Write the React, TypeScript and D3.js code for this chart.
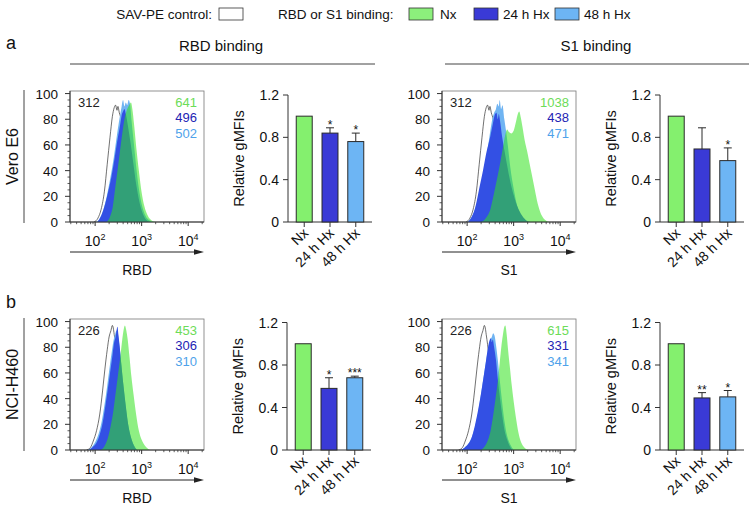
import React from "react";
import * as d3 from "d3";

// ---------- data ----------
const treatments = ["Nx", "24 h Hx", "48 h Hx"];

const veroRbdMean = [1.0, 0.84, 0.76];
const veroRbdErr = [0, 0.05, 0.08];
const veroRbdSig = ["", "*", "*"];
const veroS1Mean = [1.0, 0.69, 0.58];
const veroS1Err = [0, 0.2, 0.12];
const veroS1Sig = ["", "", "*"];
const nciRbdMean = [1.0, 0.58, 0.68];
const nciRbdErr = [0, 0.1, 0.015];
const nciRbdSig = ["", "*", "***"];
const nciS1Mean = [1.0, 0.49, 0.5];
const nciS1Err = [0, 0.05, 0.06];
const nciS1Sig = ["", "**", "*"];

// gMFI labels: [control, Nx, 24 h Hx, 48 h Hx]
const veroRbdGmfi = ["312", "641", "496", "502"];
const veroS1Gmfi = ["312", "1038", "438", "471"];
const nciRbdGmfi = ["226", "453", "306", "310"];
const nciS1Gmfi = ["226", "615", "331", "341"];

// histograms: [log10 intensity, % of max]
const veroControl: [number, number][] = [[1.98,0],[2.06,3],[2.13,10],[2.2,24],[2.26,45],[2.32,66],[2.37,82],[2.41,89],[2.44,91],[2.47,87],[2.49,90],[2.52,85],[2.56,80],[2.6,70],[2.65,55],[2.7,38],[2.76,20],[2.82,8],[2.9,2],[2.98,0]];
const veroRbd48: [number, number][] = [[2.02,0],[2.1,3],[2.18,10],[2.25,20],[2.32,33],[2.4,50],[2.47,68],[2.53,82],[2.57,90],[2.6,95],[2.63,90],[2.66,93],[2.69,91],[2.72,95],[2.75,92],[2.78,80],[2.83,62],[2.88,44],[2.94,26],[3.0,14],[3.08,5],[3.18,1],[3.28,0]];
const veroRbd24: [number, number][] = [[2.05,0],[2.12,4],[2.2,12],[2.27,22],[2.35,35],[2.42,50],[2.48,64],[2.53,74],[2.57,83],[2.6,86],[2.63,88],[2.66,84],[2.7,76],[2.76,62],[2.82,46],[2.88,30],[2.95,16],[3.03,6],[3.12,1],[3.2,0]];
const veroRbdNx: [number, number][] = [[2.25,0],[2.32,4],[2.38,12],[2.43,26],[2.48,40],[2.53,54],[2.58,68],[2.63,80],[2.68,87],[2.73,91],[2.77,93],[2.8,88],[2.84,75],[2.89,56],[2.94,40],[3.0,23],[3.06,12],[3.13,5],[3.22,1],[3.3,0]];
const veroS148: [number, number][] = [[2.0,0],[2.08,3],[2.16,9],[2.24,19],[2.32,32],[2.4,48],[2.47,64],[2.53,78],[2.58,85],[2.62,88],[2.65,92],[2.68,90],[2.7,95],[2.73,88],[2.76,91],[2.8,80],[2.84,70],[2.88,58],[2.93,42],[3.0,26],[3.08,12],[3.18,4],[3.3,0]];
const veroS124: [number, number][] = [[2.02,0],[2.1,4],[2.18,12],[2.26,26],[2.34,40],[2.42,55],[2.5,67],[2.55,76],[2.59,83],[2.63,85],[2.66,80],[2.68,84],[2.71,78],[2.75,67],[2.8,56],[2.86,44],[2.93,31],[3.0,21],[3.08,12],[3.18,5],[3.28,1],[3.36,0]];
const veroS1Nx: [number, number][] = [[2.3,0],[2.4,3],[2.5,10],[2.57,21],[2.64,33],[2.71,46],[2.77,58],[2.82,68],[2.86,72],[2.9,70],[2.95,69],[3.0,71],[3.05,78],[3.09,84],[3.12,86],[3.15,82],[3.19,74],[3.24,63],[3.29,55],[3.34,46],[3.39,37],[3.45,26],[3.5,17],[3.56,9],[3.62,4],[3.7,1],[3.76,0]];

const nciControl: [number, number][] = [[1.82,0],[1.9,2],[1.96,7],[2.03,15],[2.1,28],[2.16,46],[2.21,63],[2.26,78],[2.3,88],[2.34,93],[2.37,97],[2.39,95],[2.41,90],[2.44,82],[2.48,68],[2.52,54],[2.56,40],[2.6,27],[2.65,14],[2.7,6],[2.76,1],[2.82,0]];
const nciRbd48: [number, number][] = [[1.84,0],[1.92,2],[2.0,6],[2.07,12],[2.14,22],[2.2,35],[2.26,50],[2.31,64],[2.36,77],[2.4,86],[2.43,90],[2.46,93],[2.49,90],[2.52,82],[2.56,68],[2.6,53],[2.65,36],[2.7,22],[2.76,11],[2.83,4],[2.9,0]];
const nciRbd24: [number, number][] = [[1.86,0],[1.94,2],[2.02,5],[2.08,10],[2.15,19],[2.21,32],[2.27,47],[2.32,60],[2.37,73],[2.41,84],[2.44,88],[2.46,93],[2.48,96],[2.5,90],[2.53,80],[2.57,64],[2.61,50],[2.66,34],[2.71,20],[2.77,10],[2.84,3],[2.9,0]];
const nciRbdNx: [number, number][] = [[2.12,0],[2.2,3],[2.27,9],[2.33,18],[2.39,30],[2.44,44],[2.49,58],[2.54,72],[2.58,85],[2.61,93],[2.64,97],[2.67,93],[2.7,86],[2.74,72],[2.78,57],[2.83,42],[2.88,28],[2.94,15],[3.0,8],[3.08,3],[3.18,0]];
const nciS148: [number, number][] = [[1.86,0],[1.95,2],[2.03,5],[2.1,10],[2.17,18],[2.24,30],[2.3,44],[2.36,58],[2.41,70],[2.46,80],[2.5,86],[2.53,88],[2.56,91],[2.59,89],[2.62,82],[2.66,70],[2.7,55],[2.75,38],[2.8,23],[2.86,11],[2.93,4],[3.0,0]];
const nciS124: [number, number][] = [[1.86,0],[1.95,2],[2.03,5],[2.1,10],[2.16,18],[2.23,30],[2.29,42],[2.35,56],[2.4,68],[2.45,80],[2.48,85],[2.51,87],[2.53,84],[2.55,86],[2.58,80],[2.62,70],[2.66,55],[2.7,42],[2.75,28],[2.8,16],[2.87,7],[2.95,1],[3.0,0]];
const nciS1Nx: [number, number][] = [[2.3,0],[2.38,3],[2.45,8],[2.51,16],[2.56,27],[2.61,40],[2.66,54],[2.7,68],[2.74,82],[2.77,90],[2.8,96],[2.82,97],[2.85,90],[2.88,78],[2.92,64],[2.96,50],[3.0,38],[3.05,25],[3.1,14],[3.16,6],[3.23,2],[3.32,0]];

const xMajorExps = [2, 3, 4];
const histYTicks = [0, 20, 40, 60, 80, 100];
const barYTicks = [0, 0.4, 0.8, 1.2];

// ---------- styles ----------
const FONT = "'Liberation Sans', Arial, Helvetica, sans-serif";
const BAR_COLORS = ["#84f06e", "#3a3ad6", "#6db5f4"];
const HIST_BLUE = "#3350e4";
const HIST_LBLUE = "#70b4f2";
const HIST_GREEN = "rgb(50,225,30)";
const TXT_COLORS = ["#222", "#6cdc58", "#2323b4", "#4ea2ea"];
const AXIS = "#333";

type Pt = [number, number];

function Histogram(props: {
  left: number; right: number; top: number; bottom: number;
  control: Pt[]; h48: Pt[]; h24: Pt[]; nx: Pt[];
  labels: string[]; xLabel: string; arrowY: number; id: string;
}) {
  const { left, right, top, bottom, control, h48, h24, nx, labels, xLabel, arrowY, id } = props;
  const x = d3.scaleLog().domain([Math.pow(10, 1.46), Math.pow(10, 4.34)]).range([left, right]);
  const y = d3.scaleLinear().domain([0, 102]).range([bottom, top]);
  const area = d3.area<Pt>()
    .x((d) => x(Math.pow(10, d[0])))
    .y0(bottom)
    .y1((d) => y(d[1]))
    .curve(d3.curveMonotoneX);
  const minorX = x.ticks().filter((t) => {
    const e = Math.log10(t);
    return Math.abs(e - Math.round(e)) > 1e-6;
  });
  const minorY = d3.range(0, 101, 5).filter((v) => v % 20 !== 0);
  return (
    <g>
      <defs>
        <clipPath id={id}>
          <rect x={left} y={top} width={right - left} height={bottom - top} />
        </clipPath>
      </defs>
      <rect x={left} y={top} width={right - left} height={bottom - top} fill="white" stroke="#777" strokeWidth={0.8} />
      <g clipPath={`url(#${id})`}>
        <path d={area(control) || ""} fill="white" stroke="#333" strokeWidth={0.7} />
        <path d={area(h48) || ""} fill={HIST_LBLUE} />
        <path d={area(h24) || ""} fill={HIST_BLUE} />
        <path d={area(nx) || ""} fill={HIST_GREEN} fillOpacity={0.55} />
      </g>
      {/* axes */}
      <line x1={left} x2={right} y1={bottom} y2={bottom} stroke={AXIS} strokeWidth={1} />
      <line x1={left} x2={left} y1={top} y2={bottom} stroke={AXIS} strokeWidth={1} />
      {xMajorExps.map((e) => (
        <g key={"xm" + e}>
          <line x1={x(Math.pow(10, e))} x2={x(Math.pow(10, e))} y1={bottom} y2={bottom + 4} stroke={AXIS} />
          <text x={x(Math.pow(10, e))} y={bottom + 24} textAnchor="middle" fontSize={14} fontFamily={FONT} fill="#111">
            10<tspan fontSize={9} dy={-6}>{e}</tspan>
          </text>
        </g>
      ))}
      {minorX.map((t, i) => (
        <line key={"xn" + i} x1={x(t)} x2={x(t)} y1={bottom} y2={bottom + 2.2} stroke={AXIS} strokeWidth={0.8} />
      ))}
      {histYTicks.map((v) => (
        <g key={"ym" + v}>
          <line x1={left - 5} x2={left} y1={y(v)} y2={y(v)} stroke={AXIS} />
          <text x={left - 12} y={y(v) + 5} textAnchor="end" fontSize={13.5} fontFamily={FONT} fill="#111">{v}</text>
        </g>
      ))}
      {minorY.map((v) => (
        <line key={"yn" + v} x1={left - 2.5} x2={left} y1={y(v)} y2={y(v)} stroke={AXIS} strokeWidth={0.8} />
      ))}
      {/* gMFI labels */}
      <text x={left + 8} y={top + 15.5} fontSize={13} fontFamily={FONT} fill={TXT_COLORS[0]}>{labels[0]}</text>
      {[1, 2, 3].map((i) => (
        <text key={"l" + i} x={right - 7} y={top + 15.5 + (i - 1) * 15.7} textAnchor="end" fontSize={13} fontFamily={FONT} fill={TXT_COLORS[i]}>{labels[i]}</text>
      ))}
      {/* arrow */}
      <line x1={left} x2={right - 6} y1={arrowY} y2={arrowY} stroke="#222" strokeWidth={1} />
      <path d={`M${right},${arrowY} L${right - 10},${arrowY - 2.8} L${right - 10},${arrowY + 2.8} Z`} fill="#222" />
      <text x={(left + right) / 2} y={arrowY + 23} textAnchor="middle" fontSize={14} fontFamily={FONT} fill="#111">{xLabel}</text>
    </g>
  );
}

function BarChart(props: {
  axisX: number; top: number; bottom: number;
  means: number[]; errs: number[]; sigs: string[];
}) {
  const { axisX, top, bottom, means, errs, sigs } = props;
  const x = d3.scaleBand<string>().domain(treatments).range([axisX, axisX + 84]).paddingInner(0.38).paddingOuter(0.32);
  const y = d3.scaleLinear().domain([0, 1.2]).range([bottom, top]);
  const bw = x.bandwidth();
  return (
    <g>
      <line x1={axisX} x2={axisX} y1={top} y2={bottom} stroke={AXIS} strokeWidth={1} />
      <line x1={axisX} x2={axisX + 84} y1={bottom} y2={bottom} stroke={AXIS} strokeWidth={1} />
      {barYTicks.map((v) => (
        <g key={"t" + v}>
          <line x1={axisX - 5} x2={axisX} y1={y(v)} y2={y(v)} stroke={AXIS} />
          <text x={axisX - 9} y={y(v) + 5} textAnchor="end" fontSize={14} fontFamily={FONT} fill="#111">{String(v)}</text>
        </g>
      ))}
      <text transform={`translate(${axisX - 44},${(top + bottom) / 2}) rotate(-90)`} textAnchor="middle" fontSize={14.5} fontFamily={FONT} fill="#111">Relative gMFIs</text>
      {treatments.map((t, i) => {
        const bx = x(t) || 0;
        const cx = bx + bw / 2;
        const topV = means[i] + errs[i];
        return (
          <g key={t}>
            <rect x={bx} y={y(means[i])} width={bw} height={bottom - y(means[i])} fill={BAR_COLORS[i]} stroke="#2a2a2a" strokeWidth={1} />
            {errs[i] > 0 && (
              <g stroke="#2a2a2a" strokeWidth={1}>
                <line x1={cx} x2={cx} y1={y(means[i])} y2={y(topV)} />
                <line x1={cx - 4} x2={cx + 4} y1={y(topV)} y2={y(topV)} />
              </g>
            )}
            {sigs[i] && (
              <text x={cx} y={y(topV) + 1} textAnchor="middle" fontSize={12} fontFamily={FONT} fill="#111">{sigs[i]}</text>
            )}
            <line x1={cx} x2={cx} y1={bottom} y2={bottom + 5} stroke={AXIS} />
            <text transform={`translate(${cx + 5},${bottom + 12}) rotate(-45)`} textAnchor="end" fontSize={14} fontFamily={FONT} fill="#111">{t}</text>
          </g>
        );
      })}
    </g>
  );
}

function LegendBox(props: { x: number; fill: string }) {
  return <rect x={props.x} y={8} width={24} height={12} fill={props.fill} stroke="#333" strokeWidth={0.8} />;
}

export default function App() {
  const rows = [
    { bottom: 222, top: 91, barTop: 95, arrowY: 252 },
    { bottom: 450, top: 319, barTop: 322.5, arrowY: 480 },
  ];
  return (
    <svg width={750} height={508} style={{ position: "absolute", left: 0, top: 0, background: "white" }} fontFamily={FONT}>
      {/* legend */}
      <text x={212} y={19} textAnchor="end" fontSize={13.5} fill="#111">SAV-PE control:</text>
      <LegendBox x={219} fill="white" />
      <text x={278} y={19} fontSize={13.5} fill="#111">RBD or S1 binding:</text>
      <LegendBox x={409} fill="#8cf07c" />
      <text x={440} y={19} fontSize={13.5} fill="#111">Nx</text>
      <LegendBox x={474} fill={BAR_COLORS[1]} />
      <text x={503} y={19} fontSize={13.5} fill="#111">24 h Hx</text>
      <LegendBox x={555} fill={BAR_COLORS[2]} />
      <text x={584} y={19} fontSize={13.5} fill="#111">48 h Hx</text>

      {/* panel labels & titles */}
      <text x={6} y={49} fontSize={18} fill="#111">a</text>
      <text x={6} y={308} fontSize={18} fill="#111">b</text>
      <text x={221} y={51} textAnchor="middle" fontSize={15} fill="#111">RBD binding</text>
      <line x1={70} x2={375} y1={64} y2={64} stroke="#444" strokeWidth={1} />
      <text x={596} y={51} textAnchor="middle" fontSize={15} fill="#111">S1 binding</text>
      <line x1={445} x2={749} y1={64} y2={64} stroke="#444" strokeWidth={1} />

      {/* row labels */}
      <text transform={`translate(18,${(rows[0].top + rows[0].bottom) / 2}) rotate(-90)`} textAnchor="middle" fontSize={16} fill="#111">Vero E6</text>
      <line x1={24} x2={24} y1={rows[0].top - 1} y2={rows[0].bottom + 1} stroke="#444" />
      <text transform={`translate(18,${(rows[1].top + rows[1].bottom) / 2}) rotate(-90)`} textAnchor="middle" fontSize={16} fill="#111">NCI-H460</text>
      <line x1={24} x2={24} y1={rows[1].top - 1} y2={rows[1].bottom + 1} stroke="#444" />

      {/* row a */}
      <Histogram id="h1" left={70} right={204} top={rows[0].top} bottom={rows[0].bottom} control={veroControl} h48={veroRbd48} h24={veroRbd24} nx={veroRbdNx} labels={veroRbdGmfi} xLabel="RBD" arrowY={rows[0].arrowY} />
      <BarChart axisX={288} top={rows[0].barTop} bottom={rows[0].bottom} means={veroRbdMean} errs={veroRbdErr} sigs={veroRbdSig} />
      <Histogram id="h2" left={442} right={576} top={rows[0].top} bottom={rows[0].bottom} control={veroControl} h48={veroS148} h24={veroS124} nx={veroS1Nx} labels={veroS1Gmfi} xLabel="S1" arrowY={rows[0].arrowY} />
      <BarChart axisX={660} top={rows[0].barTop} bottom={rows[0].bottom} means={veroS1Mean} errs={veroS1Err} sigs={veroS1Sig} />

      {/* row b */}
      <Histogram id="h3" left={70} right={204} top={rows[1].top} bottom={rows[1].bottom} control={nciControl} h48={nciRbd48} h24={nciRbd24} nx={nciRbdNx} labels={nciRbdGmfi} xLabel="RBD" arrowY={rows[1].arrowY} />
      <BarChart axisX={287} top={rows[1].barTop} bottom={rows[1].bottom} means={nciRbdMean} errs={nciRbdErr} sigs={nciRbdSig} />
      <Histogram id="h4" left={442} right={576} top={rows[1].top} bottom={rows[1].bottom} control={nciControl} h48={nciS148} h24={nciS124} nx={nciS1Nx} labels={nciS1Gmfi} xLabel="S1" arrowY={rows[1].arrowY} />
      <BarChart axisX={660} top={rows[1].barTop} bottom={rows[1].bottom} means={nciS1Mean} errs={nciS1Err} sigs={nciS1Sig} />
    </svg>
  );
}
